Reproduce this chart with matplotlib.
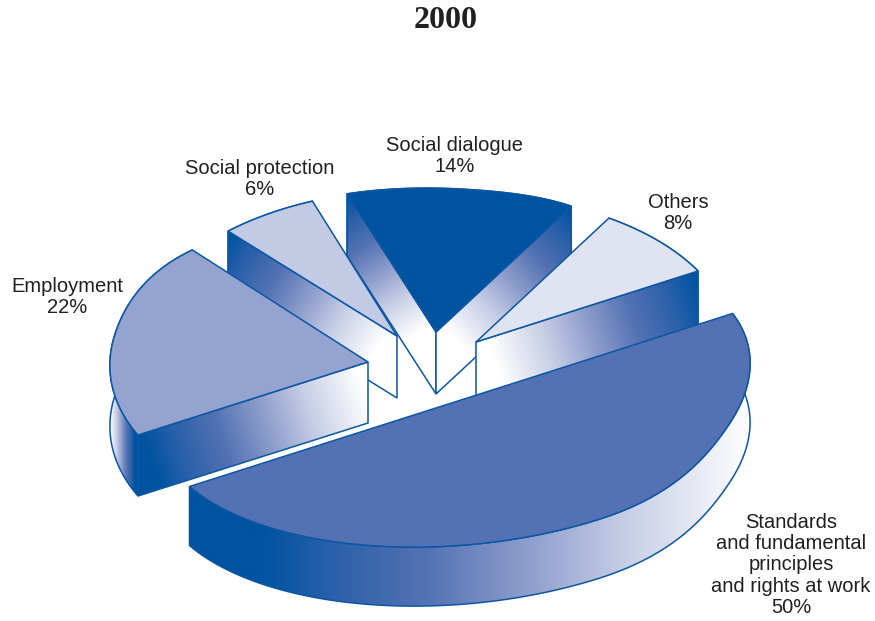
import numpy as np
import matplotlib
matplotlib.use("Agg")
from matplotlib import pyplot as plt
from matplotlib.colors import LinearSegmentedColormap
from matplotlib.patches import Polygon

# Share of each theme, in drawing order around the pie
names = ["Standards\nand fundamental\nprinciples\nand rights at work", "Employment",
         "Social protection", "Social dialogue", "Others"]
values = [50, 22, 6, 14, 8]
top_colors = ["#5472b3", "#94a3cf", "#c3cae4", "#0053a0", "#e0e4f0"]

# Layout of the exploded pie, in pixels
apex = [(461, 400), (368, 362), (397, 336), (436, 332), (476, 342)]
axis_u = [(271.5, -86.5), (230, -73), (225, -80), (228, -74), (222, -71)]
axis_v = [(139, 119), (135, 128), (129, 122), (134, 126.5), (128, 128)]
# Rim flattening: amount, and the part of the slice it applies to
arc_flatten = [0.07, 0.035, 0.0, 0.02, 0.0]
arc_span = [0.5, 1.0, 1.0, 1.0, 1.0]
depth = [59, 61, 62, 62, 61]
wall_light_x = [752, 110, 228, 347, 698]
draw_order = [3, 2, 4, 1, 0]
label_xy = [(791, 565), (67, 297), (260, 179), (455, 156), (678, 213)]

EDGE = "#0b57a3"
shade = LinearSegmentedColormap.from_list(
    "shade", [(0, "#0053a0"), (0.13, "#0053a0"), (0.25, "#2a60aa"), (0.42, "#5472b3"),
              (0.62, "#94a3cf"), (0.78, "#c8cfe6"), (1, "#ffffff")])


def gradient_face(ax, points, start, end, zorder):
    # Linear gradient from start (dark) to end (white), clipped to the polygon
    points = np.asarray(points)
    x0, y0 = points.min(axis=0) - 2
    x1, y1 = points.max(axis=0) + 2
    xx, yy = np.meshgrid(np.linspace(x0, x1, 400), np.linspace(y0, y1, 400))
    d = np.subtract(end, start)
    t = ((xx - start[0]) * d[0] + (yy - start[1]) * d[1]) / (d @ d)
    im = ax.imshow(np.clip(t, 0, 1), cmap=shade, vmin=0, vmax=1, extent=(x0, x1, y1, y0),
                   aspect="auto", interpolation="bilinear", zorder=zorder)
    clip = Polygon(points, closed=True, transform=ax.transData)
    im.set_clip_path(clip)
    ax.add_patch(Polygon(points, closed=True, fill=False, edgecolor=EDGE, linewidth=1.1, zorder=zorder))


def cross(a, b):
    return a[0] * b[1] - a[1] * b[0]


fig = plt.figure(figsize=(8.75, 6.21), dpi=100)
ax = fig.add_axes([0, 0, 1, 1])
ax.set_autoscale_on(False)
ax.set_xlim(0, 875)
ax.set_ylim(621, 0)
ax.axis("off")

edges = np.cumsum([0] + values) * 3.6
layer = 1
for i in draw_order:
    c = np.array(apex[i], dtype=float)
    u = np.array(axis_u[i])
    v = np.array(axis_v[i])
    down = np.array([0, depth[i]])

    # Rim of the slice from its two angles; the flattening eases out towards the far end
    phi = np.radians(np.linspace(edges[i], edges[i + 1], 160))
    s = np.clip(np.linspace(0, 1, 160) / arc_span[i], 0, 1)
    bend = np.where(s <= 0.5, np.sin(np.pi * s), np.sin(np.pi * s) ** 2)
    radius = 1 - arc_flatten[i] * bend
    rim = c + radius[:, None] * (np.cos(phi)[:, None] * u + np.sin(phi)[:, None] * v)

    # Outer wall, darkest at the end nearest the left of the pie
    wall = np.vstack([rim, (rim + down)[::-1]])
    dark = rim[np.argmin(np.abs(phi - np.pi))]
    gradient_face(ax, wall, dark, (wall_light_x[i], dark[1]), layer)

    # Cut faces run from the rim (dark) into the centre (white).
    # A face shows only when the slice top lies on the far side of its edge.
    middle = rim[len(rim) // 2] - c
    for n, corner in enumerate((rim[0], rim[-1])):
        d = corner - c
        if cross(d, middle) * cross(d, down) < 0:
            face = [corner, c, c + down, corner + down]
            gradient_face(ax, face, corner - 0.12 * (c - corner), c + 0.05 * (corner - c), layer + 1 + n)

    top = np.vstack([c, rim])
    ax.add_patch(Polygon(top, closed=True, facecolor=top_colors[i], edgecolor=EDGE,
                         linewidth=1.1, joinstyle="miter", zorder=layer + 3))
    layer += 4

for name, value, (x, y) in zip(names, values, label_xy):
    ax.text(x, y, f"{name}\n{value}%", ha="center", va="center", fontsize=14.5,
            family="Liberation Sans", color="#231f20", linespacing=1.16, zorder=50)

ax.text(446, 21, "2000", ha="center", va="center", fontsize=23, fontweight="bold",
        family="Liberation Serif", color="#231f20")

fig.savefig("out.png", dpi=100)
